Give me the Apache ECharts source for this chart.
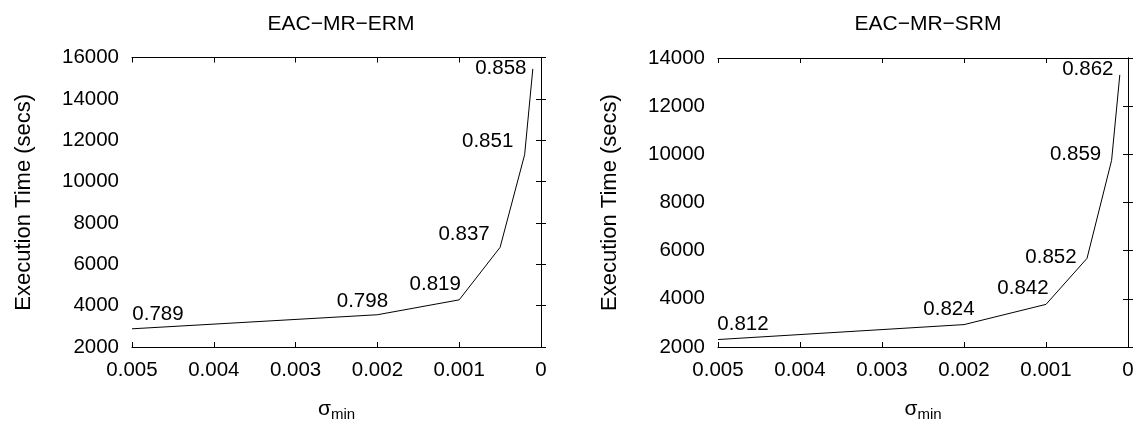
<!DOCTYPE html>
<html>
<head>
<meta charset="utf-8">
<title>EAC-MR execution time</title>
<script src="https://cdn.jsdelivr.net/npm/echarts@6/dist/echarts.min.js"></script>
<style>
  html, body { margin: 0; padding: 0; background: #fff; }
  #main { width: 1139px; height: 427px; }
</style>
</head>
<body>
<div id="main"></div>
<script>
// sigma_min values on the x axis (axis runs from 0.005 down to 0)
var sigmaMin = [0.005, 0.002, 0.001, 0.0005, 0.0002, 0.0001];
// execution time (secs)
var ermTime = [2880, 3560, 4280, 6820, 11300, 15450];
var srmTime = [2310, 2930, 3770, 5680, 9750, 13300];
// accuracy printed next to each point
var ermAcc = ['0.789', '0.798', '0.819', '0.837', '0.851', '0.858'];
var srmAcc = ['0.812', '0.824', '0.842', '0.852', '0.859', '0.862'];
var titles = ['EAC\u2212MR\u2212ERM', 'EAC\u2212MR\u2212SRM'];

// where the accuracy text sits relative to its point (px)
var ermLabelOffset = [[26, -14], [-15, -13], [-24, -16], [-36, -13], [-37, -13], [-32, -1]];
var srmLabelOffset = [[25, -15], [-15, -15], [-23, -16], [-36, -1], [-36, -6], [-32, -6]];

var FONT = '"Liberation Sans", Arial, Helvetica, sans-serif';
var grids = [
    { left: 132, right: 598, top: 57.5, bottom: 75.5 },
    { left: 718, right: 11, top: 58, bottom: 75.5 }
];

function xLabel(v) {
    if (v === 0) return '0';
    return v.toFixed(3);
}
function yLabel(v) {
    return String(v);
}

var xAxes = [], yAxes = [], series = [], titleList = [];
var yMax = [16000, 14000];
var times = [ermTime, srmTime];
var accs = [ermAcc, srmAcc];
var offsets = [ermLabelOffset, srmLabelOffset];

for (var g = 0; g < 2; g++) {
    // bottom axis (labels + name)
    xAxes.push({
        gridIndex: g,
        type: 'value',
        position: 'bottom',
        inverse: true,
        min: 0,
        max: 0.005,
        interval: 0.001,
        name: '{s|\u03c3}{sub|min}',
        nameLocation: 'middle',
        nameGap: 50,
        nameTextStyle: {
            rich: {
                s: { fontFamily: FONT, fontSize: 21, color: '#000' },
                sub: { fontFamily: FONT, fontSize: 15, color: '#000', padding: [10, 0, 0, 0] }
            }
        },
        axisLine: { show: true, lineStyle: { color: '#000', width: 1 } },
        axisTick: { show: true, inside: true, length: 5, lineStyle: { color: '#000' } },
        axisLabel: { color: '#000', fontFamily: FONT, fontSize: 20.5, margin: 13, formatter: xLabel },
        splitLine: { show: false }
    });
    // top mirror axis (ticks only)
    xAxes.push({
        gridIndex: g,
        type: 'value',
        position: 'top',
        inverse: true,
        min: 0,
        max: 0.005,
        interval: 0.001,
        axisLine: { show: true, lineStyle: { color: '#000', width: 1 } },
        axisTick: { show: true, inside: true, length: 5, lineStyle: { color: '#000' } },
        axisLabel: { show: false },
        splitLine: { show: false }
    });
    yAxes.push({
        gridIndex: g,
        type: 'value',
        position: 'left',
        min: 2000,
        max: yMax[g],
        interval: 2000,
        name: 'Execution Time (secs)',
        nameLocation: 'middle',
        nameGap: 97,
        nameTextStyle: { color: '#000', fontFamily: FONT, fontSize: 22 },
        axisLine: { show: true, lineStyle: { color: '#000', width: 1 } },
        axisTick: { show: true, inside: true, length: 5, lineStyle: { color: '#000' } },
        axisLabel: { color: '#000', fontFamily: FONT, fontSize: 20.5, margin: 13, formatter: yLabel },
        splitLine: { show: false }
    });
    yAxes.push({
        gridIndex: g,
        type: 'value',
        position: 'right',
        min: 2000,
        max: yMax[g],
        interval: 2000,
        axisLine: { show: true, lineStyle: { color: '#000', width: 1 } },
        axisTick: { show: true, inside: true, length: 5, lineStyle: { color: '#000' } },
        axisLabel: { show: false },
        splitLine: { show: false }
    });

    var pts = [];
    for (var i = 0; i < sigmaMin.length; i++) {
        pts.push({
            value: [sigmaMin[i], times[g][i]],
            label: { offset: offsets[g][i] }
        });
    }
    (function (acc) {
        series.push({
            type: 'line',
            xAxisIndex: g * 2,
            yAxisIndex: g * 2,
            data: pts,
            symbol: 'circle',
            symbolSize: 1,
            showSymbol: true,
            itemStyle: { color: 'rgba(0,0,0,0)' },
            lineStyle: { color: '#000', width: 1 },
            animation: false,
            label: {
                show: true,
                position: 'inside',
                color: '#000',
                fontFamily: FONT,
                fontSize: 20.5,
                formatter: function (p) { return acc[p.dataIndex]; }
            }
        });
    })(accs[g]);

    titleList.push({
        text: titles[g],
        left: g === 0 ? 336 : 923,
        top: 9,
        textAlign: 'center',
        textStyle: { color: '#000', fontFamily: FONT, fontSize: 21, fontWeight: 'normal' }
    });
}

var chart = echarts.init(document.getElementById('main'));
chart.setOption({
    backgroundColor: '#fff',
    animation: false,
    title: titleList,
    grid: grids,
    xAxis: xAxes,
    yAxis: yAxes,
    series: series
});
</script>
</body>
</html>
